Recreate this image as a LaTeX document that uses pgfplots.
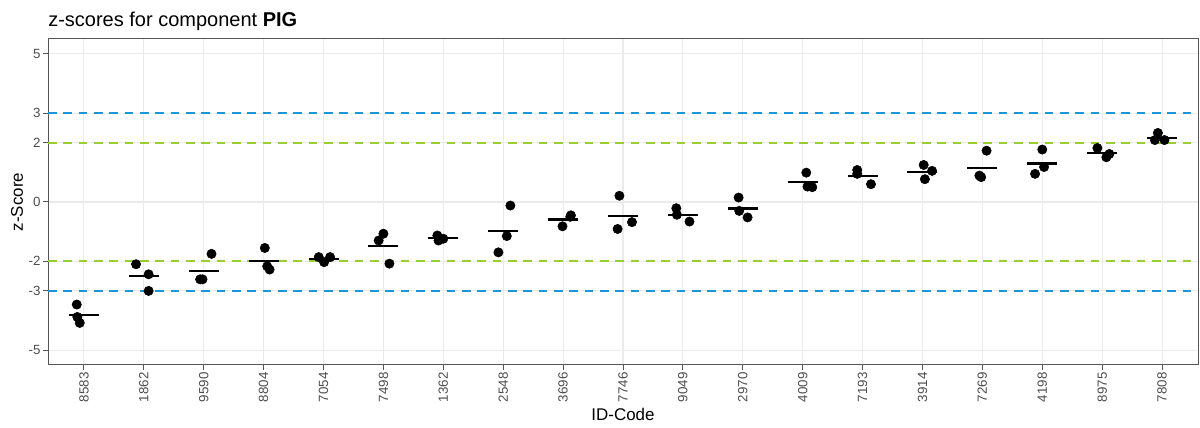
\documentclass[border=0pt]{standalone}
\usepackage{pgfplots}
\usepackage{pgfplotstable}
\pgfplotsset{compat=1.18}
\usepackage{fontspec}
\setmainfont{Liberation Sans}

\definecolor{limitblue}{RGB}{29,150,214}
\definecolor{warngreen}{RGB}{154,205,50}
\definecolor{gridgray}{RGB}{235,235,235}
\definecolor{framegray}{RGB}{85,85,85}
\definecolor{ticktext}{RGB}{77,77,77}

% individual z-scores: lab position (with jitter) and value
\pgfplotstableread{
x      z
-0.12 -3.46
-0.11 -3.88
-0.07 -4.08
0.87  -2.10
1.08  -2.44
1.08  -3.00
1.94  -2.61
1.98  -2.61
2.13  -1.75
3.02  -1.55
3.06  -2.17
3.10  -2.28
3.92  -1.86
4.01  -2.03
4.11  -1.86
4.92  -1.30
5.00  -1.07
5.10  -2.08
5.90  -1.13
5.92  -1.30
6.00  -1.24
7.12  -0.12
7.06  -1.15
6.92  -1.70
8.13  -0.45
7.99  -0.82
8.12  -0.50
8.94   0.21
8.91  -0.91
9.15  -0.68
9.89  -0.21
9.90  -0.43
10.11 -0.66
10.93  0.15
10.94 -0.30
11.08 -0.52
12.06  0.99
12.08  0.52
12.16  0.50
12.91  1.08
12.91  0.95
13.14  0.60
14.02  1.25
14.16  1.05
14.04  0.77
15.07  1.73
14.95  0.89
14.98  0.84
16.00  1.77
16.03  1.18
15.88  0.95
16.92  1.82
17.07  1.51
17.12  1.62
17.93  2.33
17.88  2.09
18.04  2.09
}\zpoints

% mean z-score per lab
\pgfplotstableread{
x  z
0  -3.81
1  -2.51
2  -2.32
3  -2.00
4  -1.92
5  -1.48
6  -1.22
7  -0.99
8  -0.59
9  -0.46
10 -0.43
11 -0.22
12  0.67
13  0.88
14  1.02
15  1.15
16  1.30
17  1.65
18  2.17
}\zmeans

\begin{document}
\begin{tikzpicture}
\path[use as bounding box] (0,0) rectangle (900pt,321pt);
\begin{axis}[
  at={(36pt,47.25pt)}, anchor=south west,
  scale only axis, width=862.5pt, height=244.5pt,
  xmin=-0.6, xmax=18.6, ymin=-5.5, ymax=5.5,
  xtick={0,...,18},
  xticklabels={8583,1862,9590,8804,7054,7498,1362,2548,3696,7746,9049,2970,4009,7193,3914,7269,4198,8975,7808},
  ytick={-5,-3,-2,0,2,3,5},
  yticklabels={-5,-3,-2,0,2,3,5},
  xtick pos=bottom, ytick pos=left,
  tick align=outside, major tick length=3.4pt,
  tick style={framegray, line width=0.75pt},
  grid=major,
  major grid style={gridgray, line width=0.8pt},
  axis line style={framegray, line width=0.75pt},
  xticklabel style={rotate=90, anchor=east, font=\fontsize{10}{12}\selectfont, text=ticktext, inner sep=2pt},
  yticklabel style={font=\fontsize{10}{12}\selectfont, text=ticktext, inner sep=2pt},
  title={z-scores for component \textbf{PIG}},
  title style={at={(axis description cs:0,1)}, anchor=base west, yshift=3.2pt, inner sep=0pt, font=\fontsize{15}{18}\selectfont},
  xlabel={ID-Code}, ylabel={z-Score},
  xlabel style={at={(axis description cs:0.5,-0.153)}, anchor=center, font=\fontsize{12.7}{15}\selectfont},
  ylabel style={at={(axis description cs:-0.027,0.5)}, anchor=center, font=\fontsize{12.7}{15}\selectfont},
]
% warning and action limits
\addplot[limitblue, line width=1.3pt, dash pattern=on 6.5pt off 5pt] coordinates {(-0.6,3) (18.6,3)};
\addplot[limitblue, line width=1.3pt, dash pattern=on 6.5pt off 5pt] coordinates {(-0.6,-3) (18.6,-3)};
\addplot[warngreen, line width=1.3pt, dash pattern=on 6.5pt off 5pt] coordinates {(-0.6,2) (18.6,2)};
\addplot[warngreen, line width=1.3pt, dash pattern=on 6.5pt off 5pt] coordinates {(-0.6,-2) (18.6,-2)};
% single results
\addplot[only marks, mark=*, mark size=3.5pt, black] table[x=x, y=z] {\zpoints};
% lab means
\addplot[only marks, mark=-, mark size=11.25pt, mark options={line width=1.6pt}, black] table[x=x, y=z] {\zmeans};
\end{axis}
\end{tikzpicture}
\end{document}
